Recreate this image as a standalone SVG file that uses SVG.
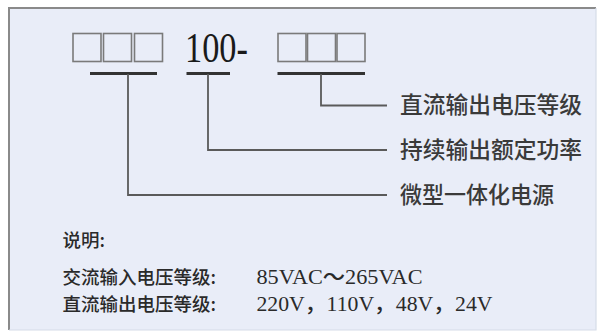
<svg xmlns="http://www.w3.org/2000/svg" width="598" height="332" viewBox="0 0 598 332">
<style>
.box{fill:none;stroke:#7a7a7a;stroke-width:1.6}
.ul{stroke:#333;stroke-width:3}
.ln{fill:none;stroke:#5a5a5a;stroke-width:1.8}
.note{font-family:"Liberation Serif","Noto Sans CJK SC",serif;fill:#2a2a2a}
</style>
<rect x="0" y="0" width="598" height="332" fill="#ffffff"/>
<rect x="9" y="8" width="587" height="322" fill="#e9edf8"/>
<path d="M9,330 V8 H596" fill="none" stroke="#8a8a8a" stroke-width="2"/>
<path d="M596,8 V330 H9" fill="none" stroke="#d6dce8" stroke-width="1.2"/>
<g id="prefix">
<rect class="box" x="73" y="33.5" width="28" height="28"/>
<rect class="box" x="103.5" y="33.5" width="28" height="28"/>
<rect class="box" x="134.5" y="33.5" width="28" height="28"/>
<line class="ul" x1="90" y1="73.5" x2="157" y2="73.5"/>
</g>
<g id="power">
<text x="185" y="61.5" font-family="Liberation Serif,serif" font-size="42" fill="#1a1a1a" textLength="63" lengthAdjust="spacingAndGlyphs">100-</text>
<line class="ul" x1="186.5" y1="73.5" x2="230" y2="73.5"/>
</g>
<g id="suffix">
<rect class="box" x="278" y="33.5" width="28" height="28"/>
<rect class="box" x="307.5" y="33.5" width="28" height="28"/>
<rect class="box" x="337" y="33.5" width="28" height="28"/>
<line class="ul" x1="277.5" y1="73.5" x2="365" y2="73.5"/>
</g>
<g id="connectors">
<path class="ln" d="M321,74 V105.5 H387"/>
<path class="ln" d="M208,74 V150 H387"/>
<path class="ln" d="M128,74 V195 H387"/>
</g>
<g font-family="Noto Sans CJK SC, sans-serif" font-size="22.5" font-weight="500" fill="#3a3a3a">
<g id="label-dc"><text x="400" y="113" textLength="182" lengthAdjust="spacingAndGlyphs">直流输出电压等级</text></g>
<g id="label-power"><text x="400" y="157.5" textLength="182" lengthAdjust="spacingAndGlyphs">持续输出额定功率</text></g>
<g id="label-type"><text x="400" y="202.5" textLength="154" lengthAdjust="spacingAndGlyphs">微型一体化电源</text></g>
</g>
<g id="notes" font-family="Noto Sans CJK SC, sans-serif" font-size="18.5" font-weight="500" fill="#2a2a2a">
<text x="62.5" y="247">说明:</text>
<text x="62.5" y="284">交流输入电压等级:</text>
<text class="note" x="256.5" y="284" font-size="21" textLength="166" lengthAdjust="spacingAndGlyphs">85VAC～265VAC</text>
<text x="62.5" y="311">直流输出电压等级:</text>
<text class="note" x="256.5" y="311" font-size="21" textLength="236" lengthAdjust="spacingAndGlyphs">220V，110V，48V，24V</text>
</g>
</svg>
